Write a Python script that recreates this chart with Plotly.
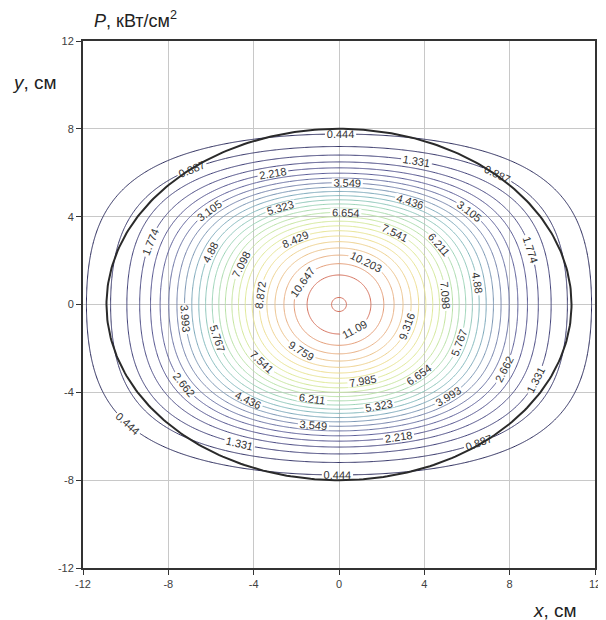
import numpy as np
import plotly.graph_objects as go

# ---- data ----
contour_levels = [0.444, 0.887, 1.331, 1.774, 2.218, 2.662, 3.105, 3.549, 3.993,
                  4.436, 4.88, 5.323, 5.767, 6.211, 6.654, 7.098, 7.541, 7.985,
                  8.429, 8.872, 9.316, 9.759, 10.203, 10.647, 11.09, 11.534]
contour_step = [0.443612]           # spacing consistent with every printed label
peak_value = [11.56]                # kW/cm^2 at the centre
x_profile_coeffs = [0.0185, 0.000034]   # ln(P0/P) along x: c2*x^2 + c4*x^4
y_profile_coeffs = [0.0220, 0.000533]   # ln(P0/P) along y: c2*y^2 + c4*y^4
boundary_semi_axes = [10.9, 8.0]    # black outline (cm)
tick_values = [-12, -8, -4, 0, 4, 8, 12]
tick_labels = ['-12', '-8', '-4', '0', '4', '8', '12']

FONT = "Arial, Liberation Sans, sans-serif"

# ---- field ----
grid = np.linspace(-13, 13, 521)
X, Y = np.meshgrid(grid, grid)
Z = peak_value[0] * np.exp(-(x_profile_coeffs[0] * X ** 2 + x_profile_coeffs[1] * X ** 4
                             + y_profile_coeffs[0] * Y ** 2 + y_profile_coeffs[1] * Y ** 4))

step = contour_step[0]

colorscale = [
    [0.00, '#2c2c5c'],
    [0.10, '#43437c'],
    [0.20, '#5a5a96'],
    [0.30, '#7585ac'],
    [0.40, '#7db3bd'],
    [0.50, '#9bd3b6'],
    [0.60, '#bce3a0'],
    [0.70, '#dde996'],
    [0.80, '#efdc8e'],
    [0.90, '#eab98a'],
    [0.96, '#e39a74'],
    [1.00, '#d4705c'],
]

fig = go.Figure()
fig.add_trace(go.Contour(
    x=grid, y=grid, z=Z,
    contours=dict(start=step, end=step * (len(contour_levels) + 0.05), size=step,
                  coloring='lines', showlabels=True,
                  labelfont=dict(size=11, color='#333333', family=FONT),
                  labelformat='.3~f'),
    line=dict(width=1),
    colorscale=colorscale, zmin=contour_levels[0], zmax=contour_levels[-1],
    showscale=False, hoverinfo='skip'))

t = np.linspace(0, 2 * np.pi, 361)
fig.add_trace(go.Scatter(
    x=boundary_semi_axes[0] * np.cos(t), y=boundary_semi_axes[1] * np.sin(t),
    mode='lines', line=dict(color='#2a2a2a', width=2), showlegend=False,
    hoverinfo='skip'))

axis_common = dict(range=[-12, 12], tickvals=tick_values, ticktext=tick_labels,
                   showgrid=True, gridcolor='#c8c8c8', gridwidth=1, showline=True,
                   linecolor='#333333', linewidth=2, mirror=True,
                   ticks='outside', ticklen=5, tickcolor='#333333',
                   tickfont=dict(size=11, color='#404040', family=FONT),
                   zeroline=False)

fig.update_layout(
    width=598, height=612,
    margin=dict(l=75, r=5, t=33, b=52),
    plot_bgcolor='white', paper_bgcolor='white',
    showlegend=False,
    xaxis=axis_common, yaxis=axis_common,
    annotations=[
        dict(text='<i>P</i>, кВт/см<sup>2</sup>', x=0.1033, y=1.0405,
             xref='paper', yref='paper', xanchor='center', yanchor='middle',
             showarrow=False, font=dict(size=18, color='#222222', family=FONT)),
        dict(text='<i>y</i>, см', x=-0.095, y=0.922,
             xref='paper', yref='paper', xanchor='center', yanchor='middle',
             showarrow=False, font=dict(size=19, color='#222222', family=FONT)),
        dict(text='<i>x</i>, см', x=0.921, y=-0.0797,
             xref='paper', yref='paper', xanchor='center', yanchor='middle',
             showarrow=False, font=dict(size=19, color='#222222', family=FONT)),
    ],
)

fig.write_html("out.html")
